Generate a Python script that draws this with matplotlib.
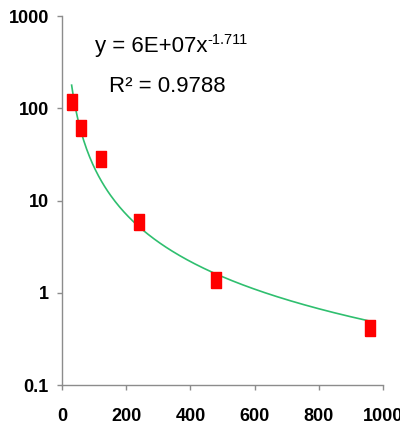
import numpy as np
import matplotlib.pyplot as plt
from matplotlib.ticker import FixedLocator, FixedFormatter

x_vals = [30, 60, 120, 240, 480, 960]
y_vals = [118, 61, 28, 5.9, 1.38, 0.41]

x_ticks = [0, 200, 400, 600, 800, 1000]
y_ticks = [0.1, 1, 10, 100, 1000]
y_tick_labels = ["0.1", "1", "10", "100", "1000"]

eq_text = "y = 6E+07x"
eq_power = "-1.711"
r2_text = "R² = 0.9788"

FONT = ["Liberation Sans", "DejaVu Sans"]


def main():
    fig = plt.figure(figsize=(4.0, 4.26), dpi=100)
    ax = fig.add_axes([0.155, 0.0962, 0.8025, 0.8662])

    # power-law trend line, fitted in log space like Excel does
    slope, icpt = np.polyfit(np.log10(x_vals), np.log10(y_vals), 1)
    xf = np.linspace(x_vals[0], x_vals[-1], 200)
    ax.plot(xf, 10 ** (icpt + slope * np.log10(xf)), color="#2fbf6f", lw=1.2, zorder=2)

    # tall-ish red squares
    rect = [(-0.32, -0.5), (0.32, -0.5), (0.32, 0.5), (-0.32, 0.5), (-0.32, -0.5)]
    ax.plot(x_vals, y_vals, ls="none", marker=rect, ms=11.5, color="#ff0000",
            mec="#ff0000", zorder=3)

    ax.set_yscale("log")
    ax.set_xlim(0, 1000)
    ax.set_ylim(0.1, 1000)
    ax.xaxis.set_major_locator(FixedLocator(x_ticks))
    ax.yaxis.set_major_locator(FixedLocator(y_ticks))
    ax.yaxis.set_major_formatter(FixedFormatter(y_tick_labels))
    ax.yaxis.set_minor_locator(FixedLocator([]))

    for s in ["top", "right"]:
        ax.spines[s].set_visible(False)
    for s in ["left", "bottom"]:
        ax.spines[s].set_color("#8c8c8c")
        ax.spines[s].set_linewidth(1.0)
    ax.tick_params(axis="both", color="#8c8c8c", length=3.5, width=1.0)
    ax.tick_params(axis="y", pad=6)
    ax.tick_params(axis="x", pad=13)

    for lab in ax.get_xticklabels() + ax.get_yticklabels():
        lab.set_fontfamily(FONT)
        lab.set_fontweight("bold")
        lab.set_fontsize(13)

    t = ax.text(0.103, 0.902, eq_text, transform=ax.transAxes, fontsize=16,
                family=FONT, va="baseline", ha="left")
    ax.annotate(eq_power, xy=(1, 0.62), xycoords=t, fontsize=10.5, family=FONT,
                va="baseline", ha="left")
    ax.text(0.147, 0.794, r2_text, transform=ax.transAxes, fontsize=16,
            family=FONT, va="baseline", ha="left")

    fig.savefig("out.png", dpi=100)


if __name__ == "__main__":
    main()
